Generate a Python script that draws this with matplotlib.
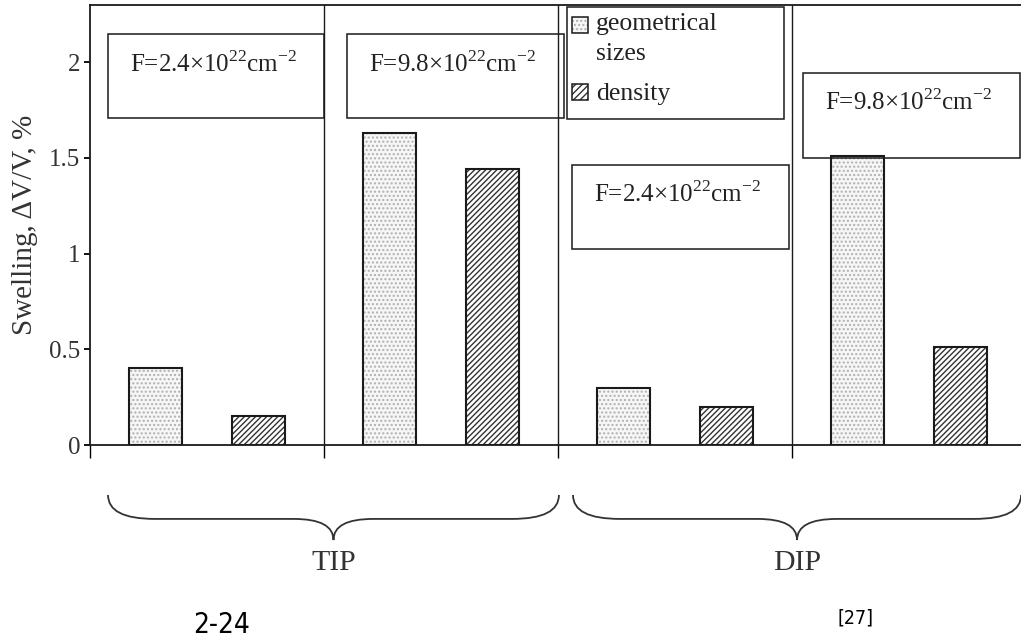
import numpy as np
import matplotlib
matplotlib.use('Agg')
import matplotlib.pyplot as plt
from matplotlib.patches import Rectangle, PathPatch
from matplotlib.path import Path
import matplotlib.transforms as mtransforms

plt.rcParams['font.family'] = ['Liberation Serif', 'DejaVu Serif']
plt.rcParams['mathtext.fontset'] = 'custom'
plt.rcParams['mathtext.rm'] = 'Liberation Serif'
plt.rcParams['hatch.linewidth'] = 1.0

# swelling per specimen, % (two fluences for each of TIP and DIP)
geometric = [0.40, 1.63, 0.30, 1.51]
density = [0.15, 1.44, 0.20, 0.51]
fluence_labels = [r'F=2.4×10$^{\mathregular{22}}$cm$^{\mathregular{-2}}$',
                  r'F=9.8×10$^{\mathregular{22}}$cm$^{\mathregular{-2}}$',
                  r'F=2.4×10$^{\mathregular{22}}$cm$^{\mathregular{-2}}$',
                  r'F=9.8×10$^{\mathregular{22}}$cm$^{\mathregular{-2}}$']
groups = ['TIP', 'DIP']
yticks = [0, 0.5, 1, 1.5, 2]
legend_labels = ['geometrical\nsizes', 'density']

# box for each fluence label: (x0, x1, y0, y1) in data units
label_boxes = [(0.077, 1.0, 1.708, 2.147),
               (1.098, 2.026, 1.708, 2.147),
               (2.060, 2.987, 1.024, 1.463),
               (3.047, 3.974, 1.500, 1.944)]
label_base = [1.949, 1.949, 1.270, 1.750]

fig = plt.figure(figsize=(10.21, 6.40), dpi=100)
ax = fig.add_axes([90 / 1021, 195 / 640, 931 / 1021, 440 / 640])
ax.set_xlim(0, 931 / 234)
ax.set_ylim(0, 2.299)

x = np.arange(len(geometric))
w = 0.225
xg = x + 0.28
xd = x + 0.72

# stipple fill + outline, hatched fill + outline
ax.bar(xg, geometric, w, color='#f6f6f6', edgecolor='#b0b0b0', hatch='....', linewidth=0)
ax.bar(xg, geometric, w, fill=False, edgecolor='#1a1a1a', linewidth=1.5)
ax.bar(xd, density, w, color='white', edgecolor='#333333', hatch='//////', linewidth=0)
ax.bar(xd, density, w, fill=False, edgecolor='#1a1a1a', linewidth=1.5)

for xs in [1, 2, 3]:
    ax.axvline(xs, color='#1a1a1a', lw=1.0)

for (x0, x1, y0, y1), lab, yb in zip(label_boxes, fluence_labels, label_base):
    ax.add_patch(Rectangle((x0, y0), x1 - x0, y1 - y0, fill=False,
                           edgecolor='#1a1a1a', lw=1.1, zorder=3))
    ax.text(x0 + 0.094, yb, lab, fontsize=18, color='#222222', va='baseline', ha='left')

# legend box
ax.add_patch(Rectangle((2.038, 1.703), 0.928, 0.585, fill=False,
                       edgecolor='#1a1a1a', lw=1.1, zorder=3))
ax.add_patch(Rectangle((2.060, 2.152), 0.068, 0.084, facecolor='#f6f6f6',
                       edgecolor='#b0b0b0', hatch='....', lw=0, zorder=3))
ax.add_patch(Rectangle((2.060, 2.152), 0.068, 0.084, fill=False,
                       edgecolor='#1a1a1a', lw=1.1, zorder=4))
ax.add_patch(Rectangle((2.060, 1.802), 0.068, 0.084, facecolor='white',
                       edgecolor='#333333', hatch='/////', lw=0, zorder=3))
ax.add_patch(Rectangle((2.060, 1.802), 0.068, 0.084, fill=False,
                       edgecolor='#1a1a1a', lw=1.1, zorder=4))
ax.text(2.162, 2.011, legend_labels[0], fontsize=18.5, color='#222222',
        va='baseline', ha='left', linespacing=1.45)
ax.text(2.162, 1.802, legend_labels[1], fontsize=18.5, color='#222222',
        va='baseline', ha='left')

ax.set_yticks(yticks)
ax.set_yticklabels(['0', '0.5', '1', '1.5', '2'])
ax.set_xticks([0, 1, 2, 3])
ax.set_xticklabels([])
ax.tick_params(axis='y', direction='out', length=4, width=1.3, labelsize=18,
               pad=3, labelcolor='#333333')
ax.tick_params(axis='x', direction='out', length=9.5, width=1.0)
for s in ['left', 'top', 'bottom']:
    ax.spines[s].set_linewidth(1.3)
    ax.spines[s].set_color('#1a1a1a')
ax.spines['right'].set_visible(False)

ax.set_ylabel('Swelling, ΔV/V, %', fontsize=21, color='#333333')
ax.yaxis.set_label_coords(-0.056, 0.5)

# curly braces under the two groups
trans = mtransforms.blended_transform_factory(ax.transData, ax.transAxes)


def brace(x0, x1, ytop=-0.1136, ymid=-0.168, ytip=-0.216, de=0.2, dc=0.17):
    xc = (x0 + x1) / 2
    verts = [(x0, ytop), (x0, ymid), (x0 + de, ymid), (xc - dc, ymid),
             (xc, ymid), (xc, ytip), (xc, ymid), (xc + dc, ymid),
             (x1 - de, ymid), (x1, ymid), (x1, ytop)]
    codes = [Path.MOVETO, Path.CURVE3, Path.CURVE3, Path.LINETO,
             Path.CURVE3, Path.CURVE3, Path.CURVE3, Path.CURVE3,
             Path.LINETO, Path.CURVE3, Path.CURVE3]
    ax.add_patch(PathPatch(Path(verts, codes), fill=False, lw=1.3,
                           edgecolor='#333333', transform=trans, clip_on=False))
    return xc


for (x0, x1), name in zip([(0.077, 2.004), (2.064, 3.979)], groups):
    xc = brace(x0, x1)
    ax.text(xc, -0.284, name, transform=trans, fontsize=21.5, color='#333333',
            ha='center', va='baseline')

fig.text(193 / 1021, 1 - 633 / 640, '2-24', fontsize=20, ha='left', va='baseline',
         family=['Liberation Sans Narrow', 'DejaVu Sans'], fontstretch='condensed')
fig.text(837 / 1021, 1 - 624 / 640, '[27]', fontsize=14, ha='left', va='baseline',
         family=['Liberation Sans Narrow', 'DejaVu Sans'], fontstretch='condensed')

fig.savefig('out.png', dpi=100)
